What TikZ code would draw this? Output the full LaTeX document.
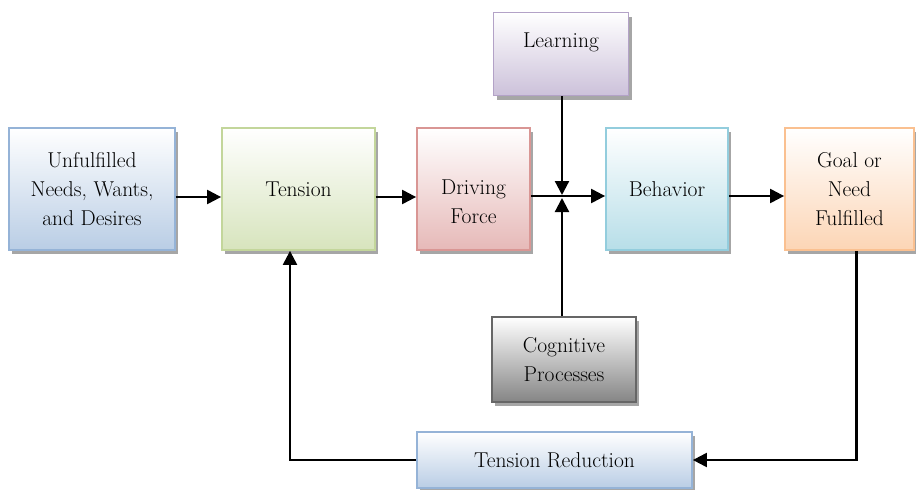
\documentclass[tikz,border=0pt]{standalone}
\usepackage{fontspec}
\usetikzlibrary{arrows.meta,shadows}
\definecolor{unfB}{HTML}{95B3D7}\definecolor{unfF}{HTML}{B9CDE5}
\definecolor{tenB}{HTML}{C3D69B}\definecolor{tenF}{HTML}{D7E4BD}
\definecolor{drvB}{HTML}{D99694}\definecolor{drvF}{HTML}{E6B9B8}
\definecolor{lrnB}{HTML}{B3A2C7}\definecolor{lrnF}{HTML}{CCC1DA}
\definecolor{behB}{HTML}{93CDDD}\definecolor{behF}{HTML}{B7DEE8}
\definecolor{golB}{HTML}{FAC090}\definecolor{golF}{HTML}{FCD5B5}
\definecolor{cogB}{HTML}{666666}\definecolor{cogF}{HTML}{858585}
\begin{document}
\begin{tikzpicture}[x=1pt,y=-1pt,
  txt/.style={font=\rmfamily\fontsize{21.5}{29}\selectfont,align=center},
  box/.style n args={4}{rectangle,draw=#1,line width=1.8pt,top color=white,bottom color=#2,
    minimum width=#3,minimum height=#4,inner sep=0pt,txt,
    drop shadow={shadow xshift=3pt,shadow yshift=-4pt,fill=black!35,opacity=1}},
  arr/.style={-{Triangle[length=14pt,width=14pt]},line width=2.2pt}]
\useasboundingbox (0,0) rectangle (916,490);
\node [box={unfB}{unfF}{166pt}{122pt}] (unf) at (92,189) {Unfulfilled\\Needs, Wants,\\and Desires};
\node [box={tenB}{tenF}{153pt}{122pt}] (ten) at (298.5,189) {Tension};
\node [box={drvB}{drvF}{113pt}{122pt}] (drv) at (473.5,189) {};
\node [txt] (drvtxt) at (473.5,202) {Driving\\Force};
\node [box={lrnB}{lrnF}{135pt}{83pt}] (lrn) at (561,54) {};
\node [txt] (lrntxt) at (561,42) {Learning};
\node [box={behB}{behF}{122pt}{122pt}] (beh) at (667,189) {Behavior};
\node [box={golB}{golF}{129pt}{122pt}] (gol) at (849.5,189) {Goal or\\Need\\Fulfilled};
\node [box={cogB}{cogF}{144pt}{85pt}] (cog) at (564,359.5) {Cognitive\\Processes};
\node [box={unfB}{unfF}{275pt}{56pt}] (red) at (554.5,460) {Tension Reduction};
\coordinate (mid) at (562,196);
\draw[arr] ([yshift=-8pt]unf.east) -- ([yshift=-8pt]ten.west);
\draw[arr] ([yshift=-8pt]ten.east) -- ([yshift=-8pt]drv.west);
\draw[arr] ([yshift=-7pt]drv.east) -- ([yshift=-7pt]beh.west);
\draw[arr] (lrn.south -| mid) -- ([yshift=1pt]mid);
\draw[arr] (cog.north -| mid) -- ([yshift=-2pt]mid);
\draw[arr] ([yshift=-7pt]beh.east) -- ([yshift=-7pt]gol.west);
\draw[arr] ([xshift=7pt]gol.south) |- (red.east);
\draw[arr] (red.west) -| ([xshift=-8.5pt]ten.south);
\end{tikzpicture}
\end{document}
